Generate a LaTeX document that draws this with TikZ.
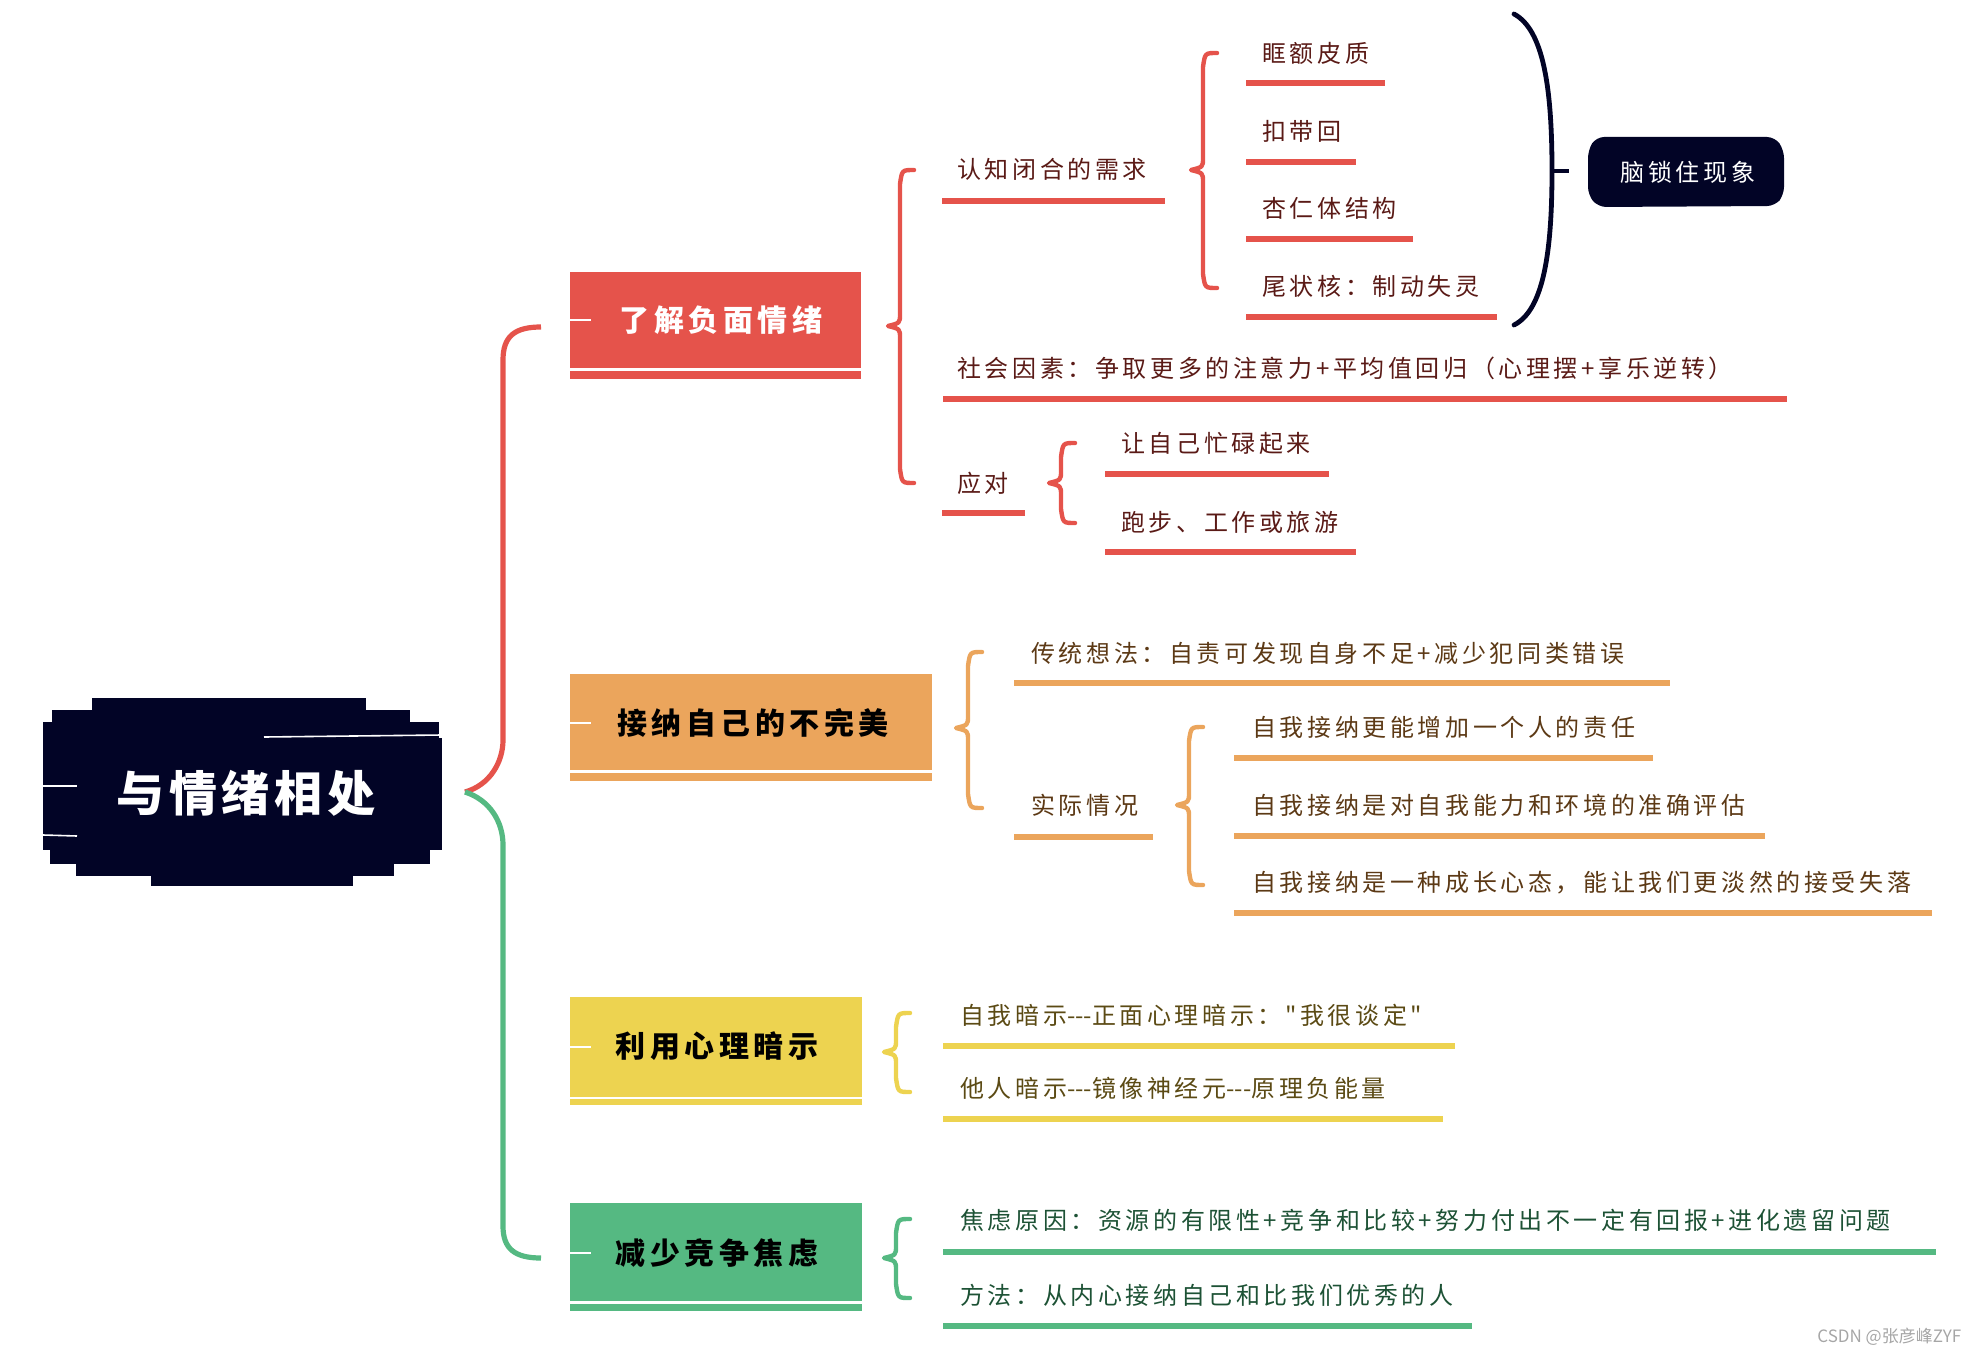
\documentclass[tikz,border=0pt]{standalone}
\usepackage{fontspec}
\newfontfamily\cjk[LetterSpace=15]{Noto Sans CJK SC}
\newfontfamily\cjkhead[LetterSpace=15]{Noto Sans CJK SC}
\newfontfamily\cjkroot[LetterSpace=10]{Noto Sans CJK SC}
\newfontfamily\cjkplain{Noto Sans CJK SC}
\usetikzlibrary{calc}

\definecolor{mred}{HTML}{E5534B}
\definecolor{morange}{HTML}{EBA55C}
\definecolor{myellow}{HTML}{EDD350}
\definecolor{mgreen}{HTML}{55B982}
\definecolor{mnavy}{HTML}{020426}
\definecolor{tred}{HTML}{5A1A16}
\definecolor{torange}{HTML}{5C3915}
\definecolor{tyellow}{HTML}{5B4A14}
\definecolor{tgreen}{HTML}{1D5235}

% brace: colour, x of stem, top, tip, bottom
\newcommand{\mbrace}[5]{%
  \draw[brc,#1] (#2+14,#3) .. controls (#2+2,#3) .. (#2,#3+14) -- (#2,#4-12)
    .. controls (#2,#4-3) .. (#2-12,#4) .. controls (#2,#4+3) .. (#2,#4+12)
    -- (#2,#5-14) .. controls (#2+2,#5) .. (#2+14,#5);}

\begin{document}
\begin{tikzpicture}[x=0.5pt, y=-0.5pt,
  leaf/.style={anchor=west, inner sep=0pt, font=\cjk\fontsize{12}{14}\selectfont},
  topic/.style={inner sep=0pt, font=\cjkhead\bfseries\fontsize{15}{18}\selectfont},
  uline/.style={line width=3pt},
  brc/.style={line width=2.2pt, line cap=round, line join=round},
  notch/.style={white, line width=0.8pt}]
\useasboundingbox (0,0) rectangle (1981,1354);

%root
  \fill[mnavy] (92,698) rectangle (366,712);
  \fill[mnavy] (52,710) rectangle (410,724);
  \fill[mnavy] (43,722) rectangle (439,740);
  \fill[mnavy] (43,738) rectangle (442,850);
  \fill[mnavy] (50,848) rectangle (430,864);
  \fill[mnavy] (76,862) rectangle (394,876);
  \fill[mnavy] (151,874) rectangle (353,886);
  \draw[notch] (264,737) -- (442,735);
  \draw[notch] (43,786) -- (77,786);
  \draw[notch] (43,835) -- (77,836);
  \node[inner sep=0pt, white, font=\cjkroot\bfseries\fontsize{24}{27}\selectfont] (root) at (246,793) {与情绪相处};
  \coordinate (rootR) at (465,792);

%branches
  \fill[mred] (570,272) rectangle (861,368);
  \fill[mred] (570,371) rectangle (861,379);
  \draw[notch] (570,320) -- (591,320);
  \node[topic, white] (b1) at (721,320) {了解负面情绪};

  \fill[morange] (570,674) rectangle (932,770);
  \fill[morange] (570,773) rectangle (932,781);
  \draw[notch] (570,723) -- (591,723);
  \node[topic] (b2) at (753,723) {接纳自己的不完美};

  \fill[myellow] (570,997) rectangle (862,1097);
  \fill[myellow] (570,1099) rectangle (862,1105);
  \draw[notch] (570,1047) -- (591,1047);
  \node[topic] (b3) at (717,1046) {利用心理暗示};

  \fill[mgreen] (570,1203) rectangle (862,1301);
  \fill[mgreen] (570,1304) rectangle (862,1311);
  \draw[notch] (570,1253) -- (591,1253);
  \node[topic] (b4) at (717,1253) {减少竞争焦虑};

%root connectors
  \coordinate (b1L) at (541,327);
  \coordinate (b4L) at (541,1258);
  \draw[mred, line width=2.6pt] (rootR) .. controls (490,785) and (503,762) .. (503,740)
    -- (503,360) .. controls (503,336) and (515,327) .. (b1L);
  \draw[mgreen, line width=2.6pt] (rootR) .. controls (490,800) and (503,822) .. (503,845)
    -- (503,1226) .. controls (503,1249) and (515,1258) .. (b4L);

%braces
  \mbrace{mred}{900}{170}{326}{483}
  \mbrace{mred}{1203}{53}{170}{288}
  \mbrace{mred}{1061}{443}{483}{523}
  \mbrace{morange}{968}{652}{728}{808}
  \mbrace{morange}{1189}{727}{805}{885}
  \mbrace{myellow}{896}{1013}{1052}{1092}
  \mbrace{mgreen}{896}{1219}{1258}{1298}

%leaves of b1
  \node[leaf, tred] (r1) at (957,169) {认知闭合的需求};
  \node[leaf, tred] (r2) at (957,368) {社会因素：争取更多的注意力+平均值回归（心理摆+享乐逆转）};
  \node[leaf, tred] (r3) at (957,483) {应对};
  \node[leaf, tred] (r11) at (1262,53) {眶额皮质};
  \node[leaf, tred] (r12) at (1262,131) {扣带回};
  \node[leaf, tred] (r13) at (1262,208) {杏仁体结构};
  \node[leaf, tred] (r14) at (1262,286) {尾状核：制动失灵};
  \node[leaf, tred] (r31) at (1121,443) {让自己忙碌起来};
  \node[leaf, tred] (r32) at (1121,522) {跑步、工作或旅游};
  \draw[uline, mred] (942,201) -- (1165,201);
  \draw[uline, mred] (943,399) -- (1787,399);
  \draw[uline, mred] (942,513) -- (1025,513);
  \draw[uline, mred] (1246,83) -- (1385,83);
  \draw[uline, mred] (1246,162) -- (1356,162);
  \draw[uline, mred] (1246,239) -- (1413,239);
  \draw[uline, mred] (1246,317) -- (1497,317);
  \draw[uline, mred] (1105,474) -- (1329,474);
  \draw[uline, mred] (1105,552) -- (1356,552);

%brain lock
  \draw[mnavy, line width=2.4pt, line cap=round] (1514,14) .. controls (1544,30) and (1552,90) .. (1552,171)
    .. controls (1552,250) and (1544,310) .. (1514,325);
  \coordinate (pk) at (1552,171);
  \coordinate (pkE) at (1569,171);
  \draw[mnavy, line width=2.4pt] (pk) -- (pkE);
  \fill[mnavy, rounded corners=4pt] (1596,137) -- (1775,137) -- (1784,150) -- (1784,195)
    -- (1775,206) -- (1598,207) -- (1588,195) -- (1588,150) -- cycle;
  \node[leaf, anchor=center, white] (lock) at (1688,172) {脑锁住现象};

%leaves of b2
  \node[leaf, torange] (o1) at (1031,653) {传统想法：自责可发现自身不足+减少犯同类错误};
  \node[leaf, torange] (o2) at (1031,805) {实际情况};
  \node[leaf, torange] (o21) at (1252,727) {自我接纳更能增加一个人的责任};
  \node[leaf, torange] (o22) at (1252,805) {自我接纳是对自我能力和环境的准确评估};
  \node[leaf, torange] (o23) at (1252,883) {自我接纳是一种成长心态，能让我们更淡然的接受失落};
  \draw[uline, morange] (1014,683) -- (1670,683);
  \draw[uline, morange] (1014,837) -- (1153,837);
  \draw[uline, morange] (1234,758) -- (1653,758);
  \draw[uline, morange] (1234,836) -- (1765,836);
  \draw[uline, morange] (1234,913) -- (1932,913);

%leaves of b3
  \node[leaf, tyellow] (y1) at (960,1015) {自我暗示\mbox{-}\mbox{-}\mbox{-}正面心理暗示："我很谈定"};
  \node[leaf, tyellow] (y2) at (960,1088) {他人暗示\mbox{-}\mbox{-}\mbox{-}镜像神经元\mbox{-}\mbox{-}\mbox{-}原理负能量};
  \draw[uline, myellow] (943,1046) -- (1455,1046);
  \draw[uline, myellow] (943,1119) -- (1443,1119);

%leaves of b4
  \node[leaf, tgreen] (g1) at (960,1220) {焦虑原因：资源的有限性+竞争和比较+努力付出不一定有回报+进化遗留问题};
  \node[leaf, tgreen] (g2) at (960,1295) {方法：从内心接纳自己和比我们优秀的人};
  \draw[uline, mgreen] (943,1252) -- (1936,1252);
  \draw[uline, mgreen] (943,1326) -- (1472,1326);

%watermark
  \node[anchor=west, inner sep=0pt, gray!70, font=\cjkplain\fontsize{8.5}{10}\selectfont] (wm) at (1817,1337) {CSDN @张彦峰ZYF};
\end{tikzpicture}
\end{document}
